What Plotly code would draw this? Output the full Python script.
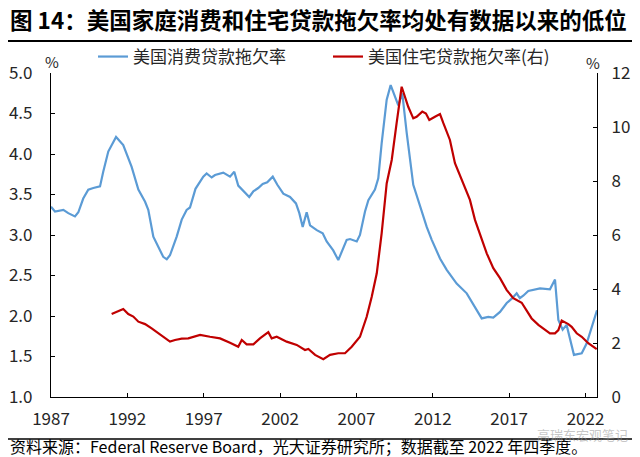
import plotly.graph_objects as go

# 美国消费贷款拖欠率 (left axis, %)
consumer_x = [1987.0, 1987.26, 1987.81, 1988.13, 1988.57, 1988.79, 1989.11, 1989.44, 1989.77, 1990.21,
              1990.42, 1990.75, 1991.26, 1991.73, 1992.28, 1992.72, 1993.16, 1993.37, 1993.70, 1994.03,
              1994.35, 1994.58, 1994.79, 1995.23, 1995.56, 1995.88, 1996.10, 1996.46, 1996.97, 1997.19,
              1997.52, 1997.74, 1998.28, 1998.72, 1999.00, 1999.26, 1999.59, 1999.98, 2000.25, 2000.57,
              2000.86, 2001.16, 2001.52, 2001.82, 2002.21, 2002.65, 2003.04, 2003.26, 2003.48, 2003.74,
              2003.96, 2004.40, 2004.79, 2005.05, 2005.48, 2005.81, 2006.36, 2006.58, 2007.02, 2007.23,
              2007.56, 2007.78, 2008.21, 2008.43, 2008.65, 2008.98, 2009.24, 2009.74, 2010.00, 2010.29,
              2010.72, 2011.16, 2011.60, 2011.93, 2012.47, 2012.91, 2013.56, 2014.22, 2014.76, 2015.20,
              2015.63, 2015.96, 2016.40, 2016.84, 2017.20, 2017.49, 2017.70, 2017.92, 2018.25, 2018.58,
              2019.02, 2019.67, 2020.00, 2020.22, 2020.50, 2020.76, 2021.24, 2021.75, 2022.07, 2022.75]
consumer_y = [3.35, 3.29, 3.31, 3.27, 3.23, 3.28, 3.45, 3.56, 3.58, 3.60,
              3.78, 4.03, 4.21, 4.11, 3.84, 3.56, 3.41, 3.31, 2.98, 2.86,
              2.73, 2.70, 2.75, 2.98, 3.19, 3.31, 3.34, 3.57, 3.72, 3.76,
              3.71, 3.74, 3.77, 3.72, 3.78, 3.61, 3.54, 3.47, 3.54, 3.58,
              3.63, 3.65, 3.72, 3.62, 3.51, 3.47, 3.39, 3.27, 3.10, 3.28,
              3.12, 3.06, 3.02, 2.92, 2.81, 2.69, 2.94, 2.95, 2.92, 3.00,
              3.29, 3.43, 3.56, 3.70, 4.13, 4.67, 4.85, 4.60, 4.75, 4.26,
              3.62, 3.35, 3.10, 2.94, 2.71, 2.57, 2.40, 2.28, 2.11, 1.97,
              1.99, 1.98, 2.05, 2.16, 2.22, 2.28, 2.22, 2.25, 2.31, 2.32,
              2.34, 2.33, 2.45, 1.95, 1.83, 1.89, 1.52, 1.54, 1.66, 2.07]

# 美国住宅贷款拖欠率 (right axis, %)
mortgage_x = [1990.97, 1991.73, 1992.06, 1992.39, 1992.72, 1993.16, 1993.59, 1994.03, 1994.46, 1994.79,
              1995.12, 1995.56, 1995.99, 1996.32, 1996.76, 1997.41, 1998.07, 1998.72, 1999.26, 1999.49,
              1999.81, 2000.25, 2000.68, 2001.23, 2001.45, 2001.78, 2002.43, 2003.09, 2003.63, 2003.85,
              2004.29, 2004.83, 2005.27, 2005.81, 2006.25, 2006.69, 2007.23, 2007.67, 2008.00, 2008.33,
              2008.65, 2008.98, 2009.31, 2009.63, 2009.96, 2010.39, 2010.72, 2010.94, 2011.31, 2011.55,
              2011.77, 2012.14, 2012.47, 2012.69, 2013.12, 2013.45, 2013.78, 2014.11, 2014.43, 2014.76,
              2015.09, 2015.53, 2015.96, 2016.40, 2016.84, 2017.27, 2017.82, 2018.15, 2018.47, 2018.91,
              2019.34, 2019.67, 2020.00, 2020.22, 2020.44, 2020.87, 2021.09, 2021.42, 2021.75, 2022.18,
              2022.73]
mortgage_y = [3.07, 3.26, 3.07, 2.98, 2.79, 2.70, 2.54, 2.36, 2.17, 2.05,
              2.11, 2.16, 2.17, 2.23, 2.30, 2.23, 2.17, 2.01, 1.86, 2.11,
              1.95, 1.95, 2.17, 2.40, 2.17, 2.23, 2.05, 1.93, 1.74, 1.78,
              1.56, 1.40, 1.56, 1.62, 1.62, 1.86, 2.23, 2.97, 3.71, 4.58,
              6.06, 7.91, 8.78, 10.14, 11.49, 10.75, 10.32, 10.38, 10.57, 10.50,
              10.26, 10.38, 10.48, 10.14, 9.52, 8.66, 8.22, 7.73, 7.30, 6.56,
              6.06, 5.32, 4.77, 4.40, 3.96, 3.66, 3.49, 3.22, 2.91, 2.67,
              2.51, 2.36, 2.36, 2.48, 2.83, 2.70, 2.60, 2.36, 2.23, 1.99,
              1.77]

x_ticks = [1987, 1992, 1997, 2002, 2007, 2012, 2017, 2022]
left_ticks = [1.0, 1.5, 2.0, 2.5, 3.0, 3.5, 4.0, 4.5, 5.0]
right_ticks = [0, 2, 4, 6, 8, 10, 12]

name_consumer = "美国消费贷款拖欠率"
name_mortgage = "美国住宅贷款拖欠率(右)"
title_text = "图 14：美国家庭消费和住宅贷款拖欠率均处有数据以来的低位"
source_text = "资料来源：Federal Reserve Board，光大证券研究所；数据截至 2022 年四季度。"

FONT = "Noto Sans CJK SC"
W, H = 640, 457
L, R, T, B = 51, 43, 73, 60
pw, ph = W - L - R, H - T - B


def px(x):
    return (x - L) / pw


def py(y):
    return (H - B - y) / ph


fig = go.Figure()
fig.add_trace(go.Scatter(x=consumer_x, y=consumer_y, mode="lines", name=name_consumer,
                         line=dict(color="#5B9BD5", width=2.2)))
fig.add_trace(go.Scatter(x=mortgage_x, y=mortgage_y, mode="lines", name=name_mortgage,
                         yaxis="y2", line=dict(color="#C00000", width=2.2)))

axis_common = dict(showline=True, linecolor="#000000", linewidth=1.2, ticks="inside",
                   ticklen=4, tickcolor="#000000", showgrid=False, zeroline=False,
                   automargin=False,
                   tickfont=dict(family=FONT, size=17, color="#262626"))

fig.update_layout(
    width=W, height=H,
    margin=dict(l=L, r=R, t=T, b=B, autoexpand=False),
    paper_bgcolor="white", plot_bgcolor="white",
    font=dict(family=FONT, color="#262626"),
    xaxis=dict(range=[1987, 2022.75], tickvals=x_ticks, ticktext=[str(v) for v in x_ticks],
               ticklabelstandoff=6, **axis_common),
    yaxis=dict(range=[1.0, 5.0], tickvals=left_ticks, tickformat=".1f",
               ticklabelstandoff=14, **axis_common),
    yaxis2=dict(range=[0, 12], tickvals=right_ticks, overlaying="y", side="right",
                ticklabelstandoff=10, **axis_common),
    showlegend=True,
    legend=dict(orientation="h", x=px(93), xanchor="left", y=py(57), yanchor="middle",
                font=dict(family=FONT, size=17, color="#262626"), itemwidth=30,
                bgcolor="rgba(0,0,0,0)", entrywidth=190, tracegroupgap=0),
)

annotations = [
    dict(text="<b>" + title_text + "</b>", x=px(8), y=py(19), xanchor="left", yanchor="middle",
         font=dict(family=FONT, size=22.5, color="#000000")),
    dict(text=source_text, x=px(8), y=py(446), xanchor="left", yanchor="middle",
         font=dict(family=FONT, size=16, color="#000000")),
    dict(text="%", x=px(52), y=py(61), xanchor="center", yanchor="middle",
         font=dict(family=FONT, size=15, color="#262626")),
    dict(text="%", x=px(593), y=py(62), xanchor="center", yanchor="middle",
         font=dict(family=FONT, size=15, color="#262626")),
    dict(text="高瑞东宏观笔记", x=px(630), y=py(434), xanchor="right", yanchor="middle",
         font=dict(family=FONT, size=13, color="rgba(150,150,150,0.55)")),
]
for a in annotations:
    a.update(xref="paper", yref="paper", showarrow=False)
fig.update_layout(annotations=annotations)

fig.update_layout(shapes=[
    dict(type="line", xref="paper", yref="paper", x0=px(8), x1=px(632), y0=py(41), y1=py(41),
         line=dict(color="#000000", width=2)),
    dict(type="line", xref="paper", yref="paper", x0=px(8), x1=px(632), y0=py(439), y1=py(439),
         line=dict(color="#000000", width=1.5)),
])

fig.write_html("out.html")
